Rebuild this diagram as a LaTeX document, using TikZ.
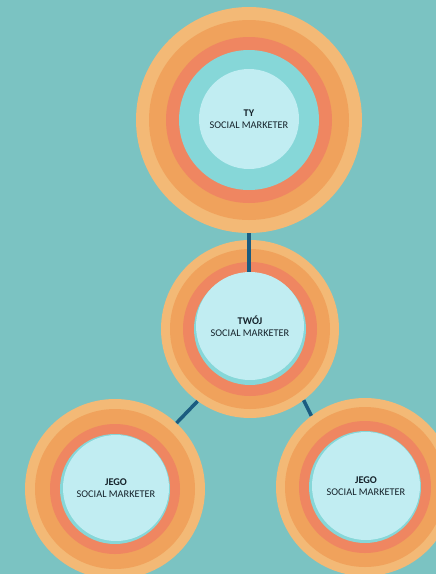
\documentclass[tikz,border=0pt]{standalone}
\usepackage{fontspec}
\setmainfont{Carlito}
\definecolor{bgteal}{HTML}{7BC3C2}
\definecolor{ringA}{HTML}{F3B976}
\definecolor{ringB}{HTML}{F0A25C}
\definecolor{ringC}{HTML}{EF8661}
\definecolor{ringD}{HTML}{86D7D8}
\definecolor{ringE}{HTML}{C1EDF2}
\definecolor{linkblue}{HTML}{1B5C80}
\definecolor{textdark}{HTML}{15222A}
\tikzset{
	disc/.style={circle, fill=#1, inner sep=0pt},
	link/.style={draw=linkblue, line width=3.5pt},
	mtext/.style={align=center, text=textdark, font=\fontsize{10.3}{12}\selectfont}
}

\begin{document}
\begin{tikzpicture}[x=1pt,y=-1pt]
	\fill[bgteal] (0,0) rectangle (436,574);
	\useasboundingbox (0,0) rectangle (436,574);
	\clip (0,0) rectangle (436,574);
	% ty
	\foreach \r/\c in {113/ringA,100/ringB,83/ringC,70/ringD}
		\node[disc=\c, minimum size=2*\r] (ty\r) at (249,120) {};
	\node[disc=ringE, minimum size=100, mtext] (ty) at (249,119) {\textbf{TY}\\SOCIAL MARKETER};
	% twoj
	\foreach \r/\c in {89/ringA,80/ringB,67/ringC,56/ringD}
		\node[disc=\c, minimum size=2*\r] (tw\r) at (250,329) {};
	\node[disc=ringE, minimum size=108, mtext] (tw) at (250,326) {\textbf{TWÓJ}\\SOCIAL MARKETER};
	% jego, left and right
	\foreach \r/\c in {90/ringA,80/ringB,65/ringC,55/ringD}
		\node[disc=\c, minimum size=2*\r] (jl\r) at (115,489) {};
	\node[disc=ringE, minimum size=106, mtext] (jl) at (116,488) {\textbf{JEGO}\\SOCIAL MARKETER};
	\foreach \r/\c in {89/ringA,80/ringB,66/ringC,56/ringD}
		\node[disc=\c, minimum size=2*\r] (jr\r) at (365,487) {};
	\node[disc=ringE, minimum size=108, mtext] (jr) at (366,486) {\textbf{JEGO}\\SOCIAL MARKETER};
	% links
	\draw[link] (ty113.south) -- (ty113.south |- tw.north);
	\draw[link] (tw89.234) -- (jl90.47);
	\draw[link] (tw89.307) -- (jr89.127);
\end{tikzpicture}
\end{document}
